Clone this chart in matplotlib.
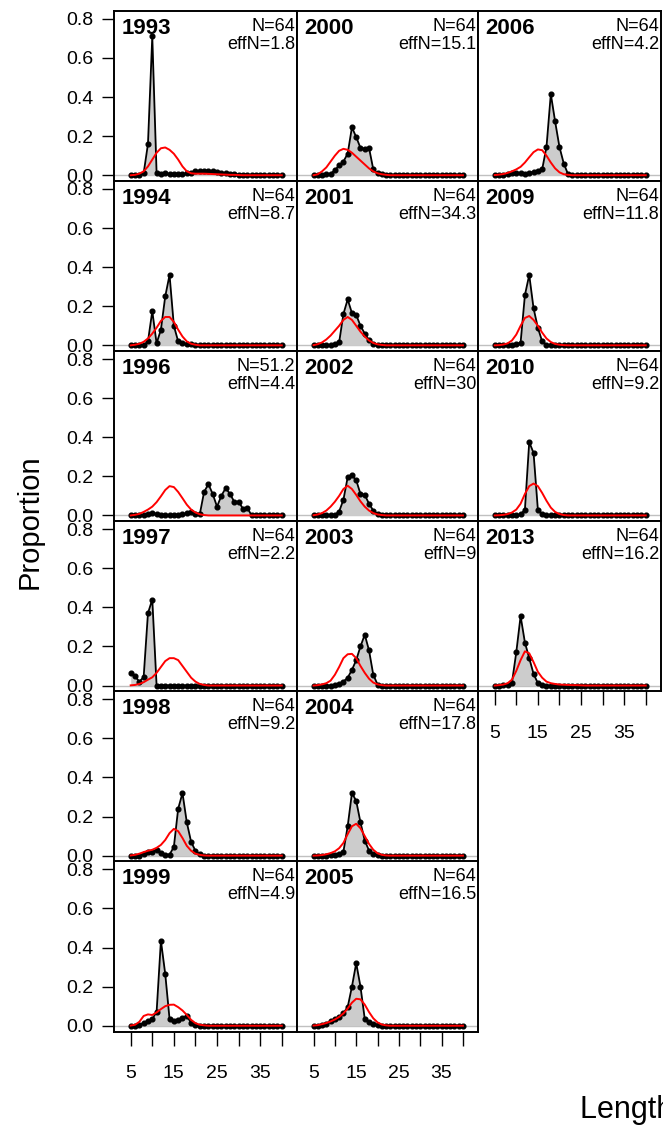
import matplotlib
matplotlib.use('Agg')
import matplotlib.pyplot as plt

plt.rcParams['font.family'] = ['Liberation Sans', 'DejaVu Sans']

# length bins (cm)
lengths = list(range(5, 41))

years = ['1993', '1994', '1996', '1997', '1998', '1999',
         '2000', '2001', '2002', '2003', '2004', '2005',
         '2006', '2009', '2010', '2013']
n_samp = ['64', '64', '51.2', '64', '64', '64',
          '64', '64', '64', '64', '64', '64',
          '64', '64', '64', '64']
eff_n = ['1.8', '8.7', '4.4', '2.2', '9.2', '4.9',
         '15.1', '34.3', '30', '9', '17.8', '16.5',
         '4.2', '11.8', '9.2', '16.2']

# observed proportions at length
obs_1993 = [0, 0, 0, 0.01, 0.16, 0.71, 0.01, 0.005, 0.01, 0.005, 0.005, 0.005, 0.005, 0.01, 0.01, 0.02, 0.02, 0.02,
            0.02, 0.02, 0.015, 0.01, 0.01, 0.005, 0.005, 0.003, 0, 0, 0, 0, 0, 0, 0, 0, 0, 0]
obs_1994 = [0, 0, 0, 0, 0.02, 0.175, 0.01, 0.08, 0.25, 0.36, 0.10, 0.02, 0.01, 0.005, 0.005, 0, 0, 0,
            0, 0, 0, 0, 0, 0, 0, 0, 0, 0, 0, 0, 0, 0, 0, 0, 0, 0]
obs_1996 = [0, 0, 0, 0, 0.005, 0.015, 0.005, 0, 0, 0, 0, 0, 0.005, 0.01, 0.02, 0.005, 0.005, 0.12,
            0.16, 0.11, 0.045, 0.10, 0.14, 0.11, 0.07, 0.07, 0.035, 0.04, 0, 0, 0, 0, 0, 0, 0, 0]
obs_1997 = [0.065, 0.048, 0.02, 0.043, 0.37, 0.44, 0, 0, 0, 0, 0, 0, 0, 0, 0, 0, 0, 0,
            0, 0, 0, 0, 0, 0, 0, 0, 0, 0, 0, 0, 0, 0, 0, 0, 0, 0]
obs_1998 = [0, 0, 0, 0.01, 0.02, 0.02, 0.03, 0.015, 0.005, 0.005, 0.045, 0.24, 0.32, 0.17, 0.07, 0.025, 0.008, 0,
            0, 0, 0, 0, 0, 0, 0, 0, 0, 0, 0, 0, 0, 0, 0, 0, 0, 0]
obs_1999 = [0, 0, 0.005, 0.015, 0.025, 0.035, 0.07, 0.435, 0.265, 0.035, 0.025, 0.03, 0.04, 0.05, 0.015, 0.003, 0, 0,
            0, 0, 0, 0, 0, 0, 0, 0, 0, 0, 0, 0, 0, 0, 0, 0, 0, 0]
obs_2000 = [0, 0, 0, 0.005, 0.008, 0.026, 0.05, 0.07, 0.11, 0.245, 0.195, 0.14, 0.135, 0.14, 0.03, 0.01, 0.005, 0,
            0, 0, 0, 0, 0, 0, 0, 0, 0, 0, 0, 0, 0, 0, 0, 0, 0, 0]
obs_2001 = [0, 0, 0, 0, 0, 0.005, 0.015, 0.16, 0.235, 0.165, 0.155, 0.10, 0.06, 0.026, 0.009, 0.002, 0, 0,
            0, 0, 0, 0, 0, 0, 0, 0, 0, 0, 0, 0, 0, 0, 0, 0, 0, 0]
obs_2002 = [0, 0, 0, 0, 0, 0.003, 0.02, 0.08, 0.195, 0.205, 0.18, 0.11, 0.105, 0.06, 0.025, 0.008, 0, 0,
            0, 0, 0, 0, 0, 0, 0, 0, 0, 0, 0, 0, 0, 0, 0, 0, 0, 0]
obs_2003 = [0, 0, 0, 0, 0, 0.003, 0.008, 0.02, 0.04, 0.08, 0.13, 0.2, 0.26, 0.18, 0.055, 0.005, 0, 0,
            0, 0, 0, 0, 0, 0, 0, 0, 0, 0, 0, 0, 0, 0, 0, 0, 0, 0]
obs_2004 = [0, 0, 0, 0, 0.003, 0.005, 0.01, 0.02, 0.15, 0.32, 0.28, 0.17, 0.077, 0.026, 0.008, 0.002, 0, 0,
            0, 0, 0, 0, 0, 0, 0, 0, 0, 0, 0, 0, 0, 0, 0, 0, 0, 0]
obs_2005 = [0, 0, 0.003, 0.01, 0.025, 0.035, 0.045, 0.065, 0.095, 0.2, 0.32, 0.2, 0.035, 0.02, 0.01, 0.004, 0, 0,
            0, 0, 0, 0, 0, 0, 0, 0, 0, 0, 0, 0, 0, 0, 0, 0, 0, 0]
obs_2006 = [0, 0, 0, 0.005, 0.01, 0.012, 0.01, 0.008, 0.012, 0.018, 0.022, 0.03, 0.145, 0.415, 0.275, 0.145, 0.06, 0.005,
            0, 0, 0, 0, 0, 0, 0, 0, 0, 0, 0, 0, 0, 0, 0, 0, 0, 0]
obs_2009 = [0, 0, 0, 0, 0, 0.005, 0.014, 0.257, 0.36, 0.19, 0.09, 0.02, 0.003, 0, 0, 0, 0, 0,
            0, 0, 0, 0, 0, 0, 0, 0, 0, 0, 0, 0, 0, 0, 0, 0, 0, 0]
obs_2010 = [0, 0, 0, 0, 0, 0, 0.005, 0.03, 0.375, 0.32, 0.03, 0.005, 0, 0, 0, 0, 0, 0,
            0, 0, 0, 0, 0, 0, 0, 0, 0, 0, 0, 0, 0, 0, 0, 0, 0, 0]
obs_2013 = [0, 0, 0.003, 0.005, 0.015, 0.17, 0.355, 0.22, 0.14, 0.06, 0.012, 0.004, 0, 0, 0, 0, 0, 0,
            0, 0, 0, 0, 0, 0, 0, 0, 0, 0, 0, 0, 0, 0, 0, 0, 0, 0]

# expected (model) proportions at length
exp_1993 = [0, 0.002, 0.008, 0.02, 0.045, 0.08, 0.115, 0.138, 0.142, 0.13, 0.11, 0.08, 0.045, 0.02, 0.01, 0.008, 0.008, 0.008,
            0.007, 0.006, 0.005, 0.004, 0.003, 0.002, 0.002, 0.001, 0, 0, 0, 0, 0, 0, 0, 0, 0, 0]
exp_1994 = [0, 0.003, 0.008, 0.018, 0.035, 0.06, 0.09, 0.125, 0.145, 0.145, 0.12, 0.08, 0.045, 0.02, 0.008, 0.003, 0, 0,
            0, 0, 0, 0, 0, 0, 0, 0, 0, 0, 0, 0, 0, 0, 0, 0, 0, 0]
exp_1996 = [0, 0.003, 0.008, 0.018, 0.03, 0.045, 0.068, 0.098, 0.13, 0.15, 0.145, 0.12, 0.088, 0.055, 0.03, 0.015, 0.006, 0.002,
            0, 0, 0, 0, 0, 0, 0, 0, 0, 0, 0, 0, 0, 0, 0, 0, 0, 0]
exp_1997 = [0.001, 0.003, 0.008, 0.017, 0.03, 0.042, 0.065, 0.095, 0.125, 0.14, 0.14, 0.13, 0.1, 0.07, 0.04, 0.02, 0.008, 0.003,
            0, 0, 0, 0, 0, 0, 0, 0, 0, 0, 0, 0, 0, 0, 0, 0, 0, 0]
exp_1998 = [0.001, 0.004, 0.01, 0.018, 0.025, 0.03, 0.04, 0.055, 0.08, 0.115, 0.137, 0.125, 0.09, 0.05, 0.025, 0.01, 0.004, 0.001,
            0, 0, 0, 0, 0, 0, 0, 0, 0, 0, 0, 0, 0, 0, 0, 0, 0, 0]
exp_1999 = [0.001, 0.005, 0.02, 0.05, 0.058, 0.055, 0.068, 0.085, 0.1, 0.107, 0.108, 0.095, 0.078, 0.055, 0.03, 0.013, 0.005, 0.002,
            0, 0, 0, 0, 0, 0, 0, 0, 0, 0, 0, 0, 0, 0, 0, 0, 0, 0]
exp_2000 = [0, 0.005, 0.02, 0.04, 0.07, 0.1, 0.125, 0.135, 0.13, 0.115, 0.095, 0.075, 0.055, 0.035, 0.02, 0.01, 0.005, 0.002,
            0, 0, 0, 0, 0, 0, 0, 0, 0, 0, 0, 0, 0, 0, 0, 0, 0, 0]
exp_2001 = [0.001, 0.006, 0.015, 0.03, 0.05, 0.075, 0.1, 0.13, 0.145, 0.13, 0.1, 0.07, 0.045, 0.025, 0.012, 0.005, 0.002, 0,
            0, 0, 0, 0, 0, 0, 0, 0, 0, 0, 0, 0, 0, 0, 0, 0, 0, 0]
exp_2002 = [0.001, 0.005, 0.012, 0.025, 0.045, 0.07, 0.1, 0.135, 0.152, 0.135, 0.105, 0.072, 0.045, 0.025, 0.012, 0.005, 0.002, 0,
            0, 0, 0, 0, 0, 0, 0, 0, 0, 0, 0, 0, 0, 0, 0, 0, 0, 0]
exp_2003 = [0, 0.002, 0.006, 0.012, 0.025, 0.055, 0.095, 0.14, 0.16, 0.162, 0.14, 0.1, 0.065, 0.035, 0.015, 0.006, 0.002, 0,
            0, 0, 0, 0, 0, 0, 0, 0, 0, 0, 0, 0, 0, 0, 0, 0, 0, 0]
exp_2004 = [0, 0.001, 0.003, 0.007, 0.013, 0.022, 0.038, 0.065, 0.11, 0.15, 0.163, 0.14, 0.1, 0.06, 0.03, 0.012, 0.004, 0.001,
            0, 0, 0, 0, 0, 0, 0, 0, 0, 0, 0, 0, 0, 0, 0, 0, 0, 0]
exp_2005 = [0.001, 0.003, 0.008, 0.014, 0.022, 0.032, 0.045, 0.063, 0.088, 0.118, 0.138, 0.135, 0.108, 0.07, 0.038, 0.017, 0.006, 0.002,
            0, 0, 0, 0, 0, 0, 0, 0, 0, 0, 0, 0, 0, 0, 0, 0, 0, 0]
exp_2006 = [0.001, 0.003, 0.006, 0.012, 0.02, 0.03, 0.043, 0.065, 0.092, 0.118, 0.132, 0.128, 0.1, 0.065, 0.035, 0.015, 0.005, 0.002,
            0, 0, 0, 0, 0, 0, 0, 0, 0, 0, 0, 0, 0, 0, 0, 0, 0, 0]
exp_2009 = [0, 0.001, 0.004, 0.01, 0.025, 0.055, 0.1, 0.14, 0.15, 0.13, 0.1, 0.065, 0.035, 0.017, 0.007, 0.003, 0.001, 0,
            0, 0, 0, 0, 0, 0, 0, 0, 0, 0, 0, 0, 0, 0, 0, 0, 0, 0]
exp_2010 = [0, 0.001, 0.003, 0.007, 0.015, 0.03, 0.06, 0.11, 0.15, 0.163, 0.15, 0.115, 0.075, 0.04, 0.018, 0.007, 0.002, 0,
            0, 0, 0, 0, 0, 0, 0, 0, 0, 0, 0, 0, 0, 0, 0, 0, 0, 0]
exp_2013 = [0, 0.002, 0.005, 0.012, 0.03, 0.075, 0.13, 0.175, 0.165, 0.12, 0.07, 0.04, 0.02, 0.012, 0.008, 0.005, 0.004, 0.003,
            0.002, 0.002, 0.001, 0, 0, 0, 0, 0, 0, 0, 0, 0, 0, 0, 0, 0, 0, 0]

obs = [obs_1993, obs_1994, obs_1996, obs_1997, obs_1998, obs_1999,
       obs_2000, obs_2001, obs_2002, obs_2003, obs_2004, obs_2005,
       obs_2006, obs_2009, obs_2010, obs_2013]
exp = [exp_1993, exp_1994, exp_1996, exp_1997, exp_1998, exp_1999,
       exp_2000, exp_2001, exp_2002, exp_2003, exp_2004, exp_2005,
       exp_2006, exp_2009, exp_2010, exp_2013]

# panel layout (pixels), filled column by column
W, H = 663, 1131
col_left = [114.3, 297.3, 478.3]
col_w = [183, 181, 183]
row_top0, row_h = 11, 170.1
n_rows = [6, 6, 4]

fig = plt.figure(figsize=(W / 100, H / 100), dpi=100)

k = 0
for c in range(3):
    for r in range(n_rows[c]):
        top = row_top0 + r * row_h
        ax = fig.add_axes([col_left[c] / W, 1 - (top + row_h) / H, col_w[c] / W, row_h / H])
        ax.axhline(0, color='#c0c0c0', lw=1, zorder=1)
        ax.fill_between(lengths, 0, obs[k], color='#cccccc', lw=0, zorder=2)
        ax.plot(lengths, obs[k], '-o', color='black', ms=3.4, lw=1.3, zorder=3)
        ax.plot(lengths, exp[k], color='red', lw=1.4, zorder=4)
        ax.set_xlim(1.2, 43.6)
        ax.set_ylim(-0.03, 0.84)
        for s in ax.spines.values():
            s.set_linewidth(1.4)

        ax.annotate(years[k], (0, 1), xycoords='axes fraction', xytext=(5, -5),
                    textcoords='offset points', ha='left', va='top',
                    fontsize=16, fontweight='bold')
        ax.annotate('N=' + n_samp[k] + '\neffN=' + eff_n[k], (1, 1), xycoords='axes fraction',
                    xytext=(-1.5, -5), textcoords='offset points', ha='right', va='top',
                    multialignment='right', fontsize=13, linespacing=1.05)

        if c == 0:
            ax.set_yticks([0, 0.2, 0.4, 0.6, 0.8])
            ax.set_yticklabels(['0.0', '0.2', '0.4', '0.6', '0.8'])
            ax.tick_params(axis='y', length=9, width=1, pad=6, labelsize=14)
        else:
            ax.tick_params(axis='y', left=False, labelleft=False)

        if r == n_rows[c] - 1:
            ax.set_xticks(range(5, 41, 5))
            ax.set_xticklabels(['5', '', '15', '', '25', '', '35', ''])
            ax.tick_params(axis='x', length=10, width=1, pad=14, labelsize=14)
        else:
            ax.tick_params(axis='x', bottom=False, labelbottom=False)
        k += 1

fig.text(30 / W, 1 - 522 / H, 'Proportion', rotation=90, fontsize=21, ha='center', va='center')
fig.text(580 / W, 1 - 1110 / H, 'Length (cm)', fontsize=22, ha='left', va='center')

fig.savefig('out.png', dpi=100)
